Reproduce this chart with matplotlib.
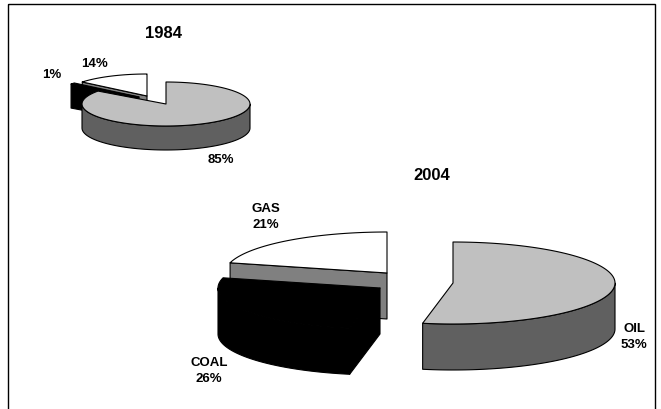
import numpy as np
import matplotlib
matplotlib.use("Agg")
import matplotlib.pyplot as plt
from matplotlib.patches import Rectangle

categories = ["OIL", "COAL", "GAS"]
shares_1984 = [85, 1, 14]
shares_2004 = [53, 26, 21]
labels_1984 = ["85%", "1%", "14%"]
labels_2004 = ["OIL\n53%", "COAL\n26%", "GAS\n21%"]

top_colors = {"OIL": "#c0c0c0", "COAL": "#000000", "GAS": "#ffffff"}
side_colors = {"OIL": "#606060", "COAL": "#000000", "GAS": "#808080"}

plt.rcParams["font.family"] = ["Liberation Sans", "DejaVu Sans"]
fig = plt.figure(figsize=(6.61, 4.09), dpi=100)
ax = fig.add_axes([0, 0, 1, 1])
ax.set_xlim(0, 661)
ax.set_ylim(409, 0)
ax.axis("off")


def rim(c, rx, ry, t):
    r = np.radians(t)
    return c[0] + rx * np.sin(r), c[1] - ry * np.cos(r)


def draw_slice(c, rx, ry, depth, t0, t1, top, side, z):
    kw = dict(edgecolor="black", linewidth=0.8, zorder=z, joinstyle="round")
    # cut faces that look toward the viewer
    for t, normal in ((t0, t0 - 90), (t1, t1 + 90)):
        if np.cos(np.radians(normal)) < -1e-6:
            x, y = rim(c, rx, ry, t)
            ax.fill([c[0], x, x, c[0]], [c[1], y, y + depth, c[1] + depth],
                    facecolor=side, **kw)
    # outer wall: only the front half of the ellipse
    a, b = max(t0, 90), min(t1, 270)
    if b > a:
        t = np.linspace(a, b, 80)
        x, y = rim(c, rx, ry, t)
        ax.fill(np.r_[x, x[::-1]], np.r_[y, y[::-1] + depth],
                facecolor=side, **kw)
    # top surface
    t = np.linspace(t0, t1, 120)
    x, y = rim(c, rx, ry, t)
    ax.fill(np.r_[c[0], x], np.r_[c[1], y], facecolor=top, **kw)


def draw_pie(shares, centres, rx, ry, depth):
    edges = np.r_[0, np.cumsum(shares)] * 3.6
    order = [2, 1, 0]
    for z, i in enumerate(order):
        name = categories[i]
        draw_slice(centres[i], rx, ry, depth, edges[i], edges[i + 1],
                   top_colors[name], side_colors[name], 3 + z)


draw_pie(shares_1984, [(166, 104), (139, 97), (147, 96)], 84, 22, 24)
draw_pie(shares_2004, [(453, 283), (380, 288), (387, 273)], 162, 41, 46)

ax.add_patch(Rectangle((8, 4), 647, 440, fill=False, edgecolor="black",
                       linewidth=1, zorder=1, clip_on=True))

bold = dict(fontweight="bold", ha="center", va="center", color="black", zorder=10)
ax.text(163, 33, "1984", fontsize=12, **bold)
ax.text(432, 175, "2004", fontsize=12, **bold)
ax.text(95, 64, labels_1984[2], fontsize=9.5, **bold)
ax.text(52, 75, labels_1984[1], fontsize=9.5, **bold)
ax.text(221, 160, labels_1984[0], fontsize=9.5, **bold)
ax.text(266, 217, labels_2004[2], fontsize=9.5, linespacing=1.4, **bold)
ax.text(634, 337, labels_2004[0], fontsize=9.5, linespacing=1.4, **bold)
ax.text(209, 371, labels_2004[1], fontsize=9.5, linespacing=1.4, **bold)

fig.savefig("out.png", dpi=100, facecolor="white")
